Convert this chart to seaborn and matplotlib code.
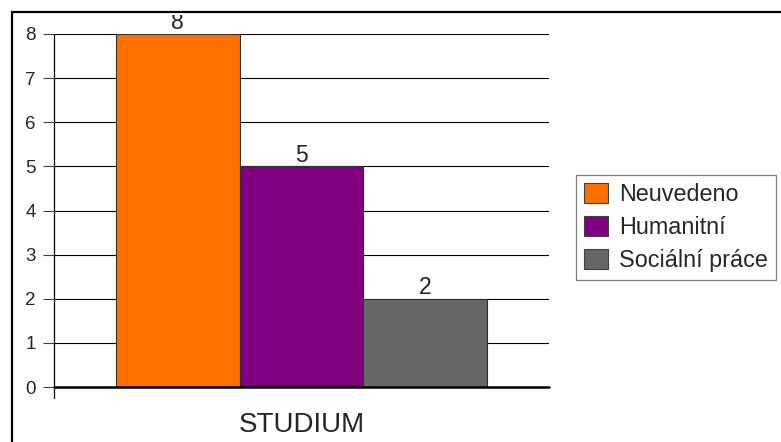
import matplotlib
matplotlib.use("Agg")
import matplotlib.pyplot as plt
import seaborn as sns
import pandas as pd
from matplotlib.patches import Rectangle, Patch
from matplotlib.transforms import Bbox, TransformedBbox

categories = ["Neuvedeno", "Humanitní", "Sociální práce"]
values = [8, 5, 2]
group = ["STUDIUM"] * 3
colors = ["#FF7000", "#800080", "#666666"]
yticks = [0, 1, 2, 3, 4, 5, 6, 7, 8]

df = pd.DataFrame({"group": group, "category": categories, "value": values})

sns.set_style("white")
plt.rcParams["font.family"] = ["Liberation Sans", "DejaVu Sans"]

W, H = 781, 442
fig = plt.figure(figsize=(W / 100, H / 100), dpi=100)
ax = fig.add_axes([54 / W, 1 - 387 / H, (549 - 54) / W, (387 - 34) / H])

sns.barplot(data=df, x="group", y="value", hue="category", palette=colors,
            hue_order=categories, width=0.8, saturation=1, ax=ax,
            edgecolor="#303030", linewidth=0.8, legend=False, zorder=3)

ax.set_ylim(0, 8)
ax.set_xlim(-0.533, 0.533)
ax.set_yticks(yticks)
ax.set_yticklabels([str(t) for t in yticks], fontsize=13.5)
ax.tick_params(axis="y", length=7.7, width=0.8, color="#404040", pad=5.5, left=True)
ax.tick_params(axis="x", length=0)
ax.set_xticks([])
ax.set_xlabel("")
ax.set_ylabel("")
for s in ["top", "right", "left", "bottom"]:
    ax.spines[s].set_visible(False)

# gridlines
for t in yticks[1:]:
    ax.axhline(t, color="black", lw=0.8, zorder=1)
# zero line
ax.axhline(0, color="black", lw=1.8, zorder=4, clip_on=False)
# y axis line extending below zero
ax.plot([0, 0], [-0.032, 1], transform=ax.transAxes, color="black", lw=0.9,
        clip_on=False, zorder=5)

# value labels
clipbox = TransformedBbox(Bbox([[0, 0], [1, 1 - 14.5 / H]]), fig.transFigure)
for p in ax.patches:
    h = p.get_height()
    if h <= 0:
        continue
    t = ax.annotate(f"{int(round(h))}", (p.get_x() + p.get_width() / 2, h),
                    xytext=(0, 3.5), textcoords="offset points", ha="center",
                    va="baseline", fontsize=16.5, annotation_clip=False)
    t.set_clip_box(clipbox)
    t.set_clip_on(True)

fig.text(302 / W, 1 - 432 / H, "STUDIUM", ha="center", va="baseline", fontsize=20)

handles = [Patch(facecolor=c, edgecolor="#404040", linewidth=0.8) for c in colors]
leg = fig.legend(handles, categories, loc="upper left",
                 bbox_to_anchor=(575.5 / W, 1 - 175 / H), bbox_transform=fig.transFigure,
                 fontsize=16.8, frameon=True, fancybox=False, shadow=False,
                 borderaxespad=0, borderpad=0.35, labelspacing=0.42,
                 handlelength=1.05, handleheight=0.95, handletextpad=0.45)
leg.get_frame().set_edgecolor("#606060")
leg.get_frame().set_linewidth(0.9)

# outer frame
fig.patches.append(Rectangle((12 / W, -0.05), 1.1, 1 - 12 / H + 0.05,
                             transform=fig.transFigure, fill=False,
                             edgecolor="black", lw=1.6, zorder=10))

fig.savefig("out.png", dpi=100)
